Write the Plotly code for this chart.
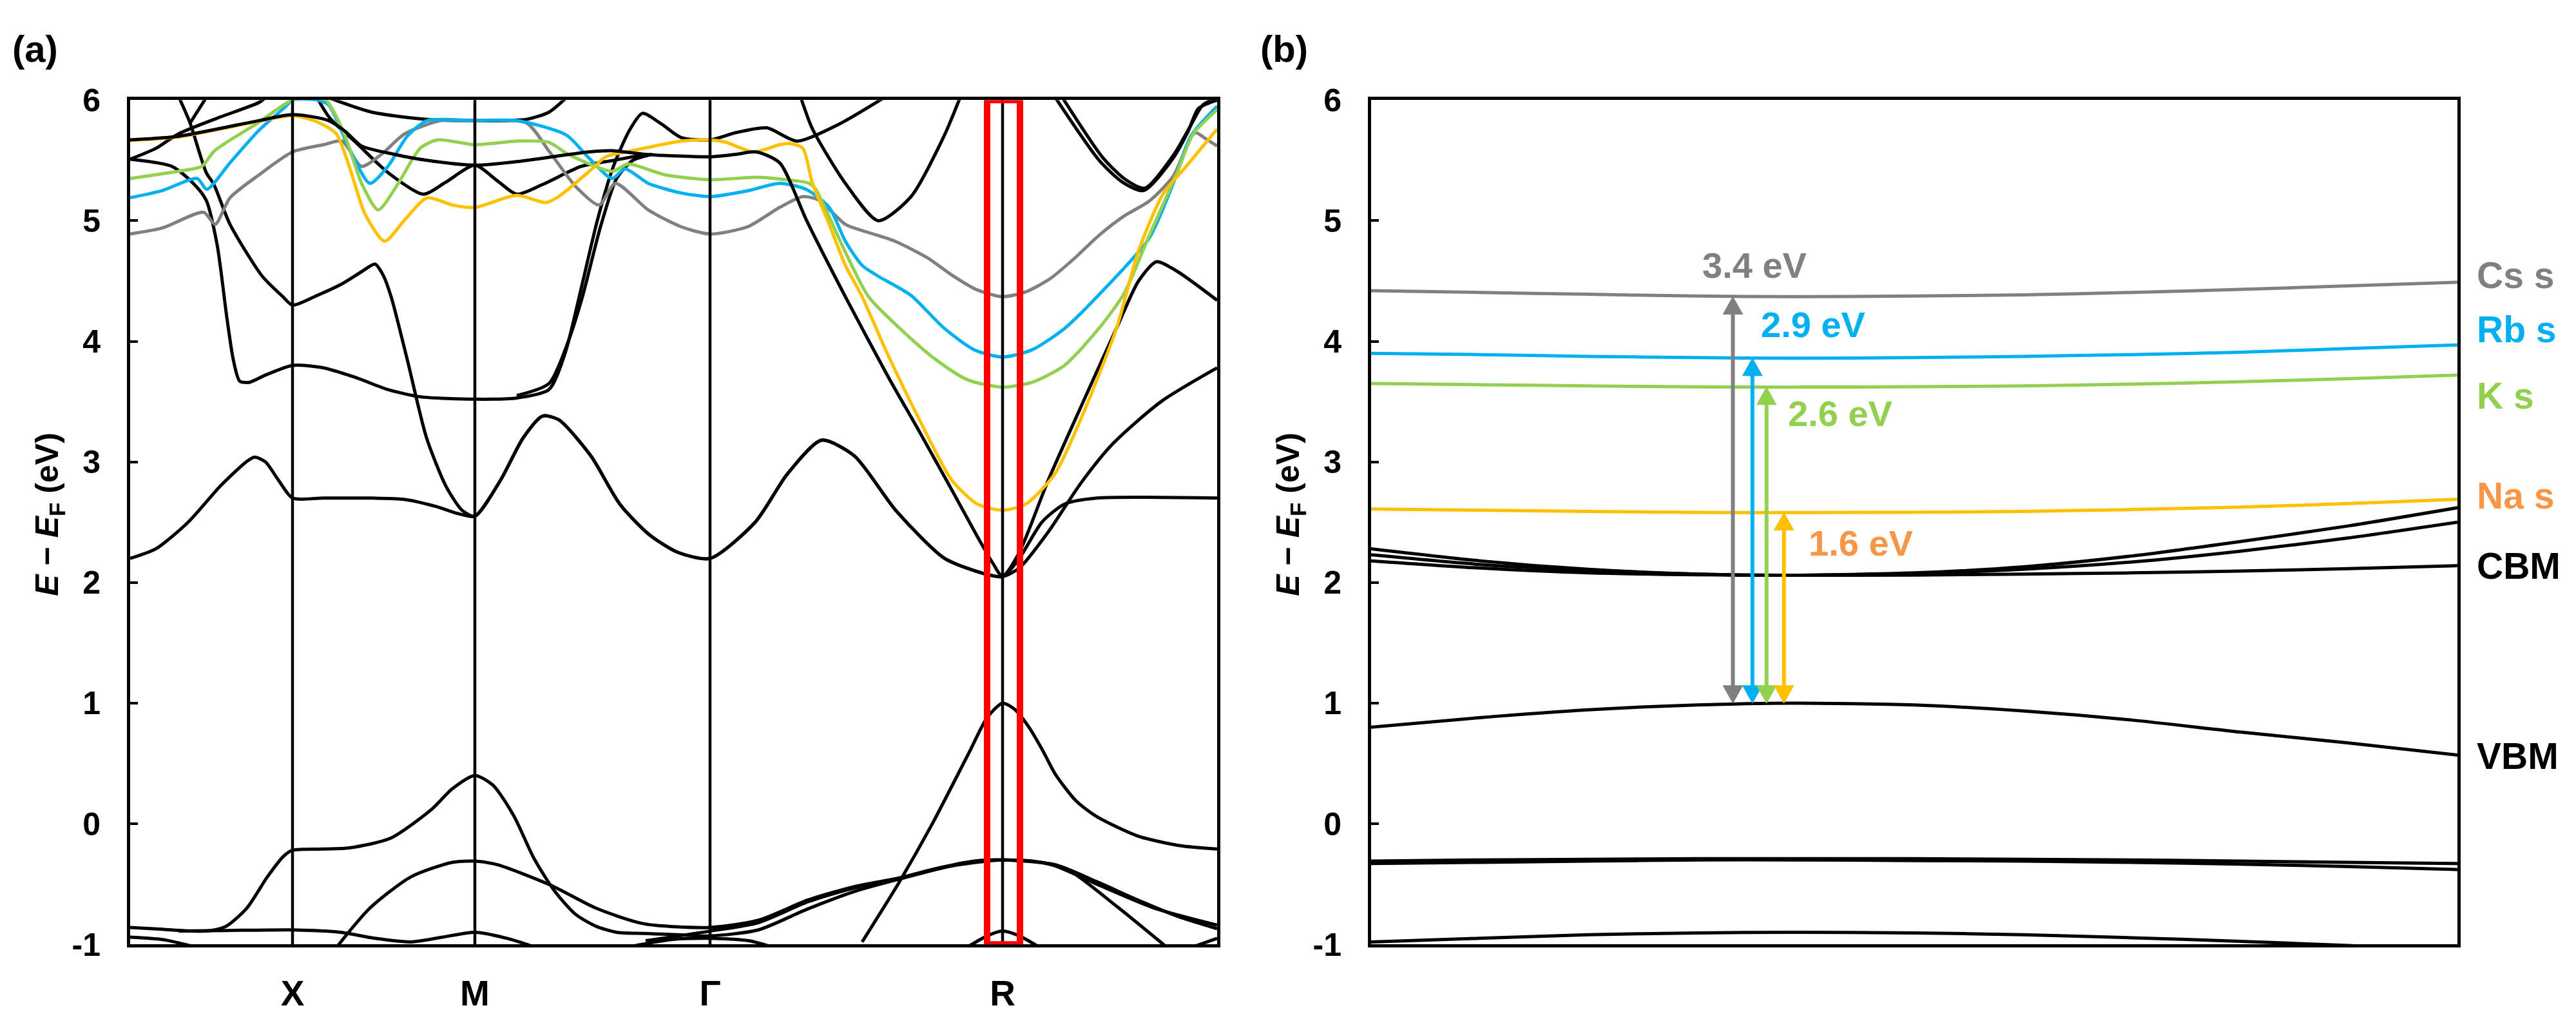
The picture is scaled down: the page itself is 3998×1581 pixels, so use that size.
import plotly.graph_objects as go

# ---------------- data: panel (a) k-path nodes ----------------
K_NODES = [0.0, 0.504, 1.070, 1.800, 2.708, 3.374]
K_LABELS = ["", "X", "M", "Γ", "R", ""]
R_BOX = [2.660, 2.762]          # k-window shown enlarged in panel (b)
E_RANGE = [-1, 6]
E_TICKS = [-1, 0, 1, 2, 3, 4, 5, 6]
E_TICK_TEXT = ["-1", "0", "1", "2", "3", "4", "5", "6"]

# ---------------- panel (a) black bands: (k, E) ----------------
A_VBM = [(2.272, -0.98), (2.386, -0.49), (2.488, -0.01), (2.604, 0.59), (2.66, 0.88), (2.708, 1.0),
         (2.745, 0.95), (2.79, 0.80), (2.83, 0.62), (2.872, 0.41), (2.936, 0.19), (3.0, 0.06),
         (3.126, -0.10), (3.254, -0.18), (3.374, -0.21)]
A_V1 = [(0.0, -0.86), (0.1, -0.875), (0.196, -0.89), (0.25, -0.885), (0.298, -0.85), (0.362, -0.70),
        (0.426, -0.44), (0.476, -0.27), (0.504, -0.22), (0.60, -0.21), (0.68, -0.20), (0.808, -0.12),
        (0.936, 0.12), (1.0, 0.29), (1.07, 0.40), (1.126, 0.32), (1.19, 0.07), (1.254, -0.29),
        (1.318, -0.56), (1.382, -0.75), (1.446, -0.85), (1.51, -0.90), (1.596, -0.91), (1.70, -0.92),
        (1.80, -0.93), (1.95, -0.88), (2.10, -0.71), (2.25, -0.56), (2.40, -0.45), (2.55, -0.35),
        (2.708, -0.30), (2.85, -0.33), (3.0, -0.50), (3.18, -0.70), (3.374, -0.84)]
A_VF = [(0.15, -0.89), (0.30, -0.885), (0.504, -0.88), (0.654, -0.90), (0.76, -0.95), (0.872, -0.98),
        (0.97, -0.94), (1.07, -0.90), (1.17, -0.95), (1.254, -1.02)]
A_VL = [(0.0, -0.94), (0.1, -0.96), (0.2, -1.02)]
A_V2 = [(0.642, -1.02), (0.744, -0.70), (0.872, -0.44), (1.0, -0.32), (1.07, -0.31), (1.14, -0.34),
        (1.306, -0.51), (1.446, -0.70), (1.596, -0.83), (1.80, -0.86), (1.95, -0.80), (2.106, -0.63),
        (2.25, -0.52), (2.386, -0.45), (2.488, -0.38), (2.62, -0.31), (2.708, -0.30), (2.872, -0.34),
        (3.0, -0.48), (3.126, -0.63), (3.254, -0.77), (3.374, -0.87)]
A_V3 = [(1.60, -0.97), (1.80, -0.89), (1.95, -0.82), (2.106, -0.645), (2.25, -0.53), (2.386, -0.455),
        (2.488, -0.385), (2.62, -0.312), (2.708, -0.30), (2.80, -0.31), (2.91, -0.38), (3.06, -0.68),
        (3.216, -1.02)]
A_VRB = [(2.60, -1.02), (2.66, -0.93), (2.708, -0.89), (2.76, -0.93), (2.82, -1.02)]
A_VG = [(1.55, -1.02), (1.68, -0.96), (1.80, -0.95), (1.92, -0.97), (1.99, -1.02)]
A_VE = [(3.30, -1.02), (3.374, -0.95)]

A_C1 = [(0.0, 2.2), (0.08, 2.28), (0.18, 2.5), (0.28, 2.8), (0.36, 3.0), (0.386, 3.04), (0.42, 3.0),
        (0.46, 2.85), (0.504, 2.7), (0.6, 2.7), (0.75, 2.7), (0.85, 2.69), (0.95, 2.63), (1.02, 2.57),
        (1.07, 2.55), (1.15, 2.85), (1.22, 3.2), (1.28, 3.38), (1.33, 3.35), (1.43, 3.05), (1.52, 2.65),
        (1.61, 2.4), (1.70, 2.25), (1.80, 2.2), (1.94, 2.5), (2.04, 2.9), (2.146, 3.18), (2.248, 3.05),
        (2.376, 2.6), (2.528, 2.2), (2.656, 2.07), (2.708, 2.05), (2.76, 2.12), (2.85, 2.42),
        (2.95, 2.82), (3.05, 3.15), (3.2, 3.5), (3.374, 3.78)]
A_C4 = [(0.152, 6.02), (0.186, 5.81), (0.236, 5.40), (0.26, 5.3), (0.31, 4.97), (0.41, 4.54),
        (0.474, 4.37), (0.504, 4.3), (0.58, 4.38), (0.66, 4.48), (0.72, 4.58), (0.76, 4.64),
        (0.785, 4.55), (0.81, 4.37), (0.86, 3.85), (0.92, 3.2), (0.98, 2.8), (1.03, 2.6), (1.07, 2.55),
        (1.15, 2.85), (1.22, 3.2), (1.28, 3.38), (1.33, 3.35), (1.43, 3.05), (1.52, 2.65), (1.61, 2.4),
        (1.70, 2.25), (1.80, 2.2), (1.94, 2.5), (2.04, 2.9), (2.146, 3.18), (2.248, 3.05), (2.376, 2.6),
        (2.528, 2.2), (2.656, 2.07), (2.708, 2.05), (2.76, 2.25), (2.85, 2.85), (2.95, 3.45),
        (3.062, 4.11), (3.13, 4.5), (3.186, 4.66), (3.25, 4.58), (3.374, 4.34)]
A_C3 = [(0.0, 5.51), (0.13, 5.45), (0.196, 5.31), (0.236, 5.17), (0.27, 4.8), (0.30, 4.2), (0.32, 3.85),
        (0.34, 3.67), (0.37, 3.66), (0.42, 3.72), (0.504, 3.8), (0.6, 3.78), (0.7, 3.7), (0.8, 3.6),
        (0.9, 3.54), (1.07, 3.52), (1.2, 3.53), (1.3, 3.6), (1.35, 3.9), (1.394, 4.37), (1.45, 5.0),
        (1.50, 5.45), (1.55, 5.75), (1.59, 5.89), (1.65, 5.8), (1.71, 5.69), (1.80, 5.67), (1.88, 5.73),
        (1.976, 5.77), (2.07, 5.66), (2.2, 5.8), (2.34, 6.02)]
A_C3B = [(1.2, 3.55), (1.3, 3.65), (1.36, 4.0), (1.404, 4.37), (1.46, 4.95), (1.51, 5.35), (1.56, 5.5),
         (1.62, 5.55)]
A_VTOP = [(0.186, 5.81), (0.236, 6.02)]
A_B1 = [(0.0, 5.51), (0.08, 5.6), (0.15, 5.72), (0.27, 5.85), (0.40, 5.98), (0.42, 6.02)]
A_B2 = [(0.0, 5.67), (0.15, 5.70), (0.40, 5.83), (0.504, 5.88), (0.616, 5.83), (0.668, 5.74),
        (0.718, 5.62), (0.82, 5.55), (0.922, 5.5), (1.07, 5.46), (1.2, 5.49), (1.424, 5.57), (1.50, 5.58),
        (1.6, 5.55), (1.80, 5.53), (1.88, 5.55), (1.944, 5.57), (2.016, 5.48), (2.10, 5.0), (2.22, 4.37),
        (2.35, 3.72), (2.45, 3.25), (2.55, 2.77), (2.63, 2.38), (2.68, 2.15), (2.708, 2.05), (2.76, 2.2),
        (2.83, 2.5), (2.9, 2.65), (3.0, 2.7), (3.374, 2.7)]
A_B3 = [(0.58, 6.02), (0.62, 5.85), (0.7, 5.65), (0.8, 5.4), (0.91, 5.22), (0.98, 5.32), (1.07, 5.46),
        (1.14, 5.33), (1.2, 5.22), (1.28, 5.3), (1.40, 5.45), (1.50, 5.5), (1.6, 5.55)]
A_TOP = [(0.616, 6.02), (0.75, 5.9), (0.922, 5.84), (1.07, 5.83), (1.23, 5.84), (1.30, 5.9), (1.354, 6.02)]
A_VR = [(2.082, 6.02), (2.118, 5.76), (2.22, 5.31), (2.322, 5.0), (2.424, 5.2), (2.526, 5.7), (2.576, 6.02)]
A_VE1 = [(2.872, 6.02), (3.008, 5.5), (3.08, 5.32), (3.146, 5.25), (3.238, 5.52), (3.284, 5.74),
         (3.316, 5.93), (3.374, 6.0)]
A_VE2 = [(2.894, 6.02), (3.02, 5.52), (3.09, 5.34), (3.15, 5.27), (3.24, 5.55), (3.29, 5.78),
         (3.33, 5.96), (3.374, 6.02)]

# ---------------- panel (a) alkali-s bands ----------------
A_CS = [(0.0, 4.89), (0.10, 4.94), (0.228, 5.07), (0.264, 4.97), (0.31, 5.19), (0.40, 5.38), (0.504, 5.57),
        (0.60, 5.63), (0.658, 5.66), (0.718, 5.45), (0.78, 5.55), (0.852, 5.72), (0.964, 5.83),
        (1.07, 5.83), (1.23, 5.81), (1.302, 5.57), (1.384, 5.28), (1.456, 5.13), (1.506, 5.31),
        (1.608, 5.09), (1.71, 4.95), (1.80, 4.89), (1.917, 4.95), (2.016, 5.11), (2.088, 5.2),
        (2.138, 5.17), (2.22, 4.97), (2.282, 4.91), (2.374, 4.83), (2.476, 4.69), (2.55, 4.55),
        (2.626, 4.43), (2.708, 4.37), (2.78, 4.41), (2.856, 4.52), (2.932, 4.69), (3.008, 4.88),
        (3.086, 5.04), (3.162, 5.16), (3.238, 5.37), (3.292, 5.69), (3.308, 5.73), (3.338, 5.68),
        (3.374, 5.62)]
A_RB = [(0.0, 5.19), (0.10, 5.25), (0.208, 5.35), (0.238, 5.26), (0.31, 5.48), (0.40, 5.75), (0.48, 5.94),
        (0.504, 6.0), (0.58, 6.0), (0.616, 5.96), (0.68, 5.6), (0.744, 5.31), (0.80, 5.45), (0.86, 5.7),
        (0.922, 5.83), (1.07, 5.83), (1.20, 5.83), (1.354, 5.71), (1.424, 5.52), (1.496, 5.35),
        (1.536, 5.43), (1.608, 5.31), (1.71, 5.23), (1.80, 5.2), (1.92, 5.25), (2.016, 5.31),
        (2.098, 5.26), (2.17, 5.11), (2.22, 4.83), (2.272, 4.63), (2.322, 4.54), (2.424, 4.38),
        (2.526, 4.11), (2.62, 3.93), (2.708, 3.87), (2.80, 3.93), (2.902, 4.11), (3.03, 4.45),
        (3.162, 4.85), (3.238, 5.31), (3.292, 5.7), (3.374, 5.95)]
A_K = [(0.0, 5.35), (0.15, 5.41), (0.222, 5.45), (0.262, 5.58), (0.396, 5.81), (0.504, 6.0), (0.60, 6.02),
       (0.66, 5.75), (0.72, 5.3), (0.77, 5.09), (0.83, 5.3), (0.90, 5.6), (0.954, 5.67), (1.07, 5.63),
       (1.2, 5.66), (1.30, 5.65), (1.36, 5.55), (1.496, 5.41), (1.546, 5.47), (1.66, 5.38), (1.80, 5.34),
       (1.95, 5.36), (2.068, 5.33), (2.108, 5.31), (2.128, 5.26), (2.22, 4.74), (2.292, 4.37),
       (2.40, 4.08), (2.50, 3.85), (2.60, 3.68), (2.708, 3.62), (2.80, 3.66), (2.90, 3.8), (3.008, 4.11),
       (3.086, 4.40), (3.162, 4.87), (3.25, 5.4), (3.30, 5.72), (3.374, 5.92)]
A_NA = [(0.0, 5.665), (0.15, 5.695), (0.40, 5.825), (0.504, 5.87), (0.58, 5.82), (0.64, 5.72),
        (0.68, 5.45), (0.73, 5.05), (0.79, 4.83), (0.85, 5.0), (0.922, 5.19), (1.0, 5.13), (1.07, 5.11),
        (1.2, 5.21), (1.29, 5.15), (1.33, 5.2), (1.434, 5.43), (1.476, 5.53), (1.558, 5.58), (1.71, 5.66),
        (1.80, 5.67), (1.85, 5.65), (1.934, 5.57), (2.016, 5.63), (2.05, 5.64), (2.088, 5.6),
        (2.118, 5.31), (2.17, 4.97), (2.22, 4.63), (2.272, 4.37), (2.35, 3.9), (2.45, 3.35),
        (2.55, 2.85), (2.63, 2.65), (2.708, 2.6), (2.78, 2.65), (2.87, 2.9), (2.95, 3.35), (3.062, 4.11),
        (3.13, 4.75), (3.208, 5.23), (3.278, 5.45), (3.374, 5.76)]

# ---------------- panel (b): zoom around R ----------------
B_K = [0.0, 0.1, 0.2, 0.3, 0.385, 0.5, 0.6, 0.7, 0.8, 0.9, 1.0]
B_CS = [4.42, 4.405, 4.39, 4.375, 4.37, 4.375, 4.385, 4.405, 4.43, 4.46, 4.49]
B_RB = [3.90, 3.89, 3.875, 3.865, 3.86, 3.865, 3.875, 3.89, 3.91, 3.94, 3.97]
B_K_S = [3.65, 3.64, 3.63, 3.622, 3.62, 3.623, 3.63, 3.645, 3.665, 3.69, 3.72]
B_NA = [2.61, 2.60, 2.59, 2.582, 2.58, 2.583, 2.59, 2.605, 2.625, 2.655, 2.69]
B_CB1 = [2.28, 2.18, 2.11, 2.07, 2.06, 2.08, 2.13, 2.22, 2.34, 2.47, 2.62]
B_CB2 = [2.23, 2.15, 2.10, 2.07, 2.06, 2.075, 2.11, 2.17, 2.26, 2.37, 2.50]
B_CB3 = [2.18, 2.12, 2.08, 2.065, 2.06, 2.062, 2.07, 2.08, 2.095, 2.115, 2.14]
B_VB = [0.80, 0.88, 0.945, 0.985, 1.0, 0.985, 0.935, 0.86, 0.76, 0.67, 0.57]
B_VB2 = [-0.31, -0.30, -0.295, -0.29, -0.29, -0.29, -0.295, -0.30, -0.31, -0.32, -0.33]
B_VB3 = [-0.33, -0.32, -0.31, -0.30, -0.30, -0.305, -0.31, -0.32, -0.335, -0.355, -0.38]
B_VB4 = [-0.98, -0.95, -0.92, -0.905, -0.90, -0.905, -0.92, -0.945, -0.975, -1.01, -1.05]

GAP_NAMES = ["3.4 eV", "2.9 eV", "2.6 eV", "1.6 eV"]
GAP_TOP = [4.37, 3.86, 3.62, 2.58]
GAP_BOTTOM = [1.0, 1.0, 1.0, 1.0]
GAP_ARROW_K = [0.333, 0.351, 0.364, 0.380]
GAP_LABEL_K = [0.353, 0.407, 0.432, 0.451]
GAP_LABEL_E = [4.63, 4.14, 3.40, 2.33]
LEVEL_NAMES = ["Cs s", "Rb s", "K s", "Na s", "CBM", "VBM"]
LEVEL_E = [4.55, 4.10, 3.55, 2.72, 2.14, 0.56]

GRAY, BLUE, GREEN, YELLOW, ORANGE, BLACK, RED = "#808080", "#00B0F0", "#92D050", "#FFC000", "#F79646", "#000000", "#FF0000"

W, H = 3998, 1581
FONT = "Liberation Sans, Arial, sans-serif"
LW = 5
HEAD_HALF_W = 0.009   # arrow-head half width (panel-b x units)
HEAD_LEN = 0.145      # arrow-head length (eV)

fig = go.Figure()


def add_band(pts, color, xa="x", ya="y", width=LW):
    fig.add_trace(go.Scatter(
        x=[p[0] for p in pts], y=[p[1] for p in pts], mode="lines",
        line=dict(color=color, width=width, shape="spline", smoothing=0.7),
        xaxis=xa, yaxis=ya, showlegend=False, hoverinfo="skip"))


for band in [A_VBM, A_V1, A_VF, A_VL, A_V2, A_V3, A_VRB, A_VG, A_VE, A_C1, A_C4, A_C3, A_C3B, A_VTOP,
             A_B1, A_B3, A_TOP, A_VR, A_VE1, A_VE2]:
    add_band(band, BLACK)
for band, c in [(A_CS, GRAY), (A_RB, BLUE), (A_K, GREEN), (A_NA, YELLOW)]:
    add_band(band, c)
add_band(A_B2, BLACK)

for e, c in [(B_CS, GRAY), (B_RB, BLUE), (B_K_S, GREEN), (B_NA, YELLOW), (B_CB1, BLACK), (B_CB2, BLACK),
             (B_CB3, BLACK), (B_VB, BLACK), (B_VB2, BLACK), (B_VB3, BLACK), (B_VB4, BLACK)]:
    add_band(list(zip(B_K, e)), c, "x2", "y2")

# double-headed gap arrows in panel (b)
gap_colors = [GRAY, BLUE, GREEN, YELLOW]
for xa, top, bot, c in zip(GAP_ARROW_K, GAP_TOP, GAP_BOTTOM, gap_colors):
    fig.add_trace(go.Scatter(x=[xa, xa], y=[bot + 0.8 * HEAD_LEN, top - 0.8 * HEAD_LEN], mode="lines",
                             line=dict(color=c, width=6), xaxis="x2", yaxis="y2", showlegend=False,
                             hoverinfo="skip"))
    for tip, d in [(top, -1), (bot, 1)]:
        fig.add_trace(go.Scatter(
            x=[xa - HEAD_HALF_W, xa, xa + HEAD_HALF_W, xa - HEAD_HALF_W],
            y=[tip + d * HEAD_LEN, tip, tip + d * HEAD_LEN, tip + d * HEAD_LEN],
            mode="lines", fill="toself", fillcolor=c, line=dict(color=c, width=1),
            xaxis="x2", yaxis="y2", showlegend=False, hoverinfo="skip"))

# axis geometry (pixels -> paper fractions)
AX_A = [202 / W, 1889 / W]
AX_B = [2128 / W, 3814 / W]
AX_Y = [1 - 1491 / H, 1 - 133 / H]

common_y = dict(range=E_RANGE, tickvals=E_TICKS, ticktext=E_TICK_TEXT, ticks="inside", ticklen=12,
                tickwidth=4, tickcolor=BLACK, showline=True, linewidth=5, linecolor=BLACK, mirror=True,
                showgrid=False, zeroline=False,
                tickfont=dict(family=FONT, size=50, color=BLACK, weight="bold"), ticklabelstandoff=31,
                domain=AX_Y)
fig.update_layout(
    width=W, height=H, margin=dict(l=0, r=0, t=0, b=0), paper_bgcolor="white", plot_bgcolor="white",
    xaxis=dict(domain=AX_A, range=[K_NODES[0], K_NODES[-1]], tickvals=K_NODES[1:-1], ticktext=K_LABELS[1:-1],
               ticks="", showline=True, linewidth=5, linecolor=BLACK, mirror=True, showgrid=False,
               zeroline=False, tickfont=dict(family=FONT, size=55, color=BLACK, weight="bold"),
               ticklabelstandoff=24, anchor="y"),
    yaxis=dict(anchor="x", **common_y),
    xaxis2=dict(domain=AX_B, range=[B_K[0], B_K[-1]], showticklabels=False, ticks="", showline=True,
                linewidth=5, linecolor=BLACK, mirror=True, showgrid=False, zeroline=False, anchor="y2"),
    yaxis2=dict(anchor="x2", **common_y),
)

shapes = []
for k in K_NODES[1:-1]:
    shapes.append(dict(type="line", xref="x", yref="y domain", x0=k, x1=k, y0=0, y1=1,
                       line=dict(color=BLACK, width=4.5)))
shapes.append(dict(type="rect", xref="x", yref="y", x0=R_BOX[0], x1=R_BOX[1], y0=E_RANGE[0], y1=E_RANGE[1],
                   line=dict(color=RED, width=10)))
fig.update_layout(shapes=shapes)

ann = []
ytitle = "<i>E</i> − <i>E</i><sub>F</sub> (eV)"
for xp in [77 / W, 2003 / W]:
    ann.append(dict(text=ytitle, xref="paper", yref="paper", x=xp, y=1 - 800 / H, xanchor="center",
                    yanchor="middle", textangle=-90, showarrow=False,
                    font=dict(family=FONT, size=50, color=BLACK, weight="bold")))
for txt, xp in [("(a)", 54 / W), ("(b)", 1993 / W)]:
    ann.append(dict(text=txt, xref="paper", yref="paper", x=xp, y=1 - 50 / H, xanchor="center",
                    yanchor="middle", showarrow=False,
                    font=dict(family=FONT, size=58, color=BLACK, weight="bold")))

gap_text_colors = [GRAY, BLUE, GREEN, ORANGE]
for i in range(4):
    ann.append(dict(x=GAP_LABEL_K[i], y=GAP_LABEL_E[i], xref="x2", yref="y2", text=GAP_NAMES[i],
                    xanchor="center", yanchor="middle", showarrow=False,
                    font=dict(family=FONT, size=56, color=gap_text_colors[i], weight="bold")))

level_colors = [GRAY, BLUE, GREEN, ORANGE, BLACK, BLACK]
for name, e, c in zip(LEVEL_NAMES, LEVEL_E, level_colors):
    ann.append(dict(x=3842 / W, y=e, xref="paper", yref="y2", xanchor="left", yanchor="middle", text=name,
                    showarrow=False, font=dict(family=FONT, size=57, color=c, weight="bold")))
fig.update_layout(annotations=ann)

fig.write_html("out.html", config={"displayModeBar": False},
               post_script="document.body.style.margin='0';document.body.style.padding='0';")
